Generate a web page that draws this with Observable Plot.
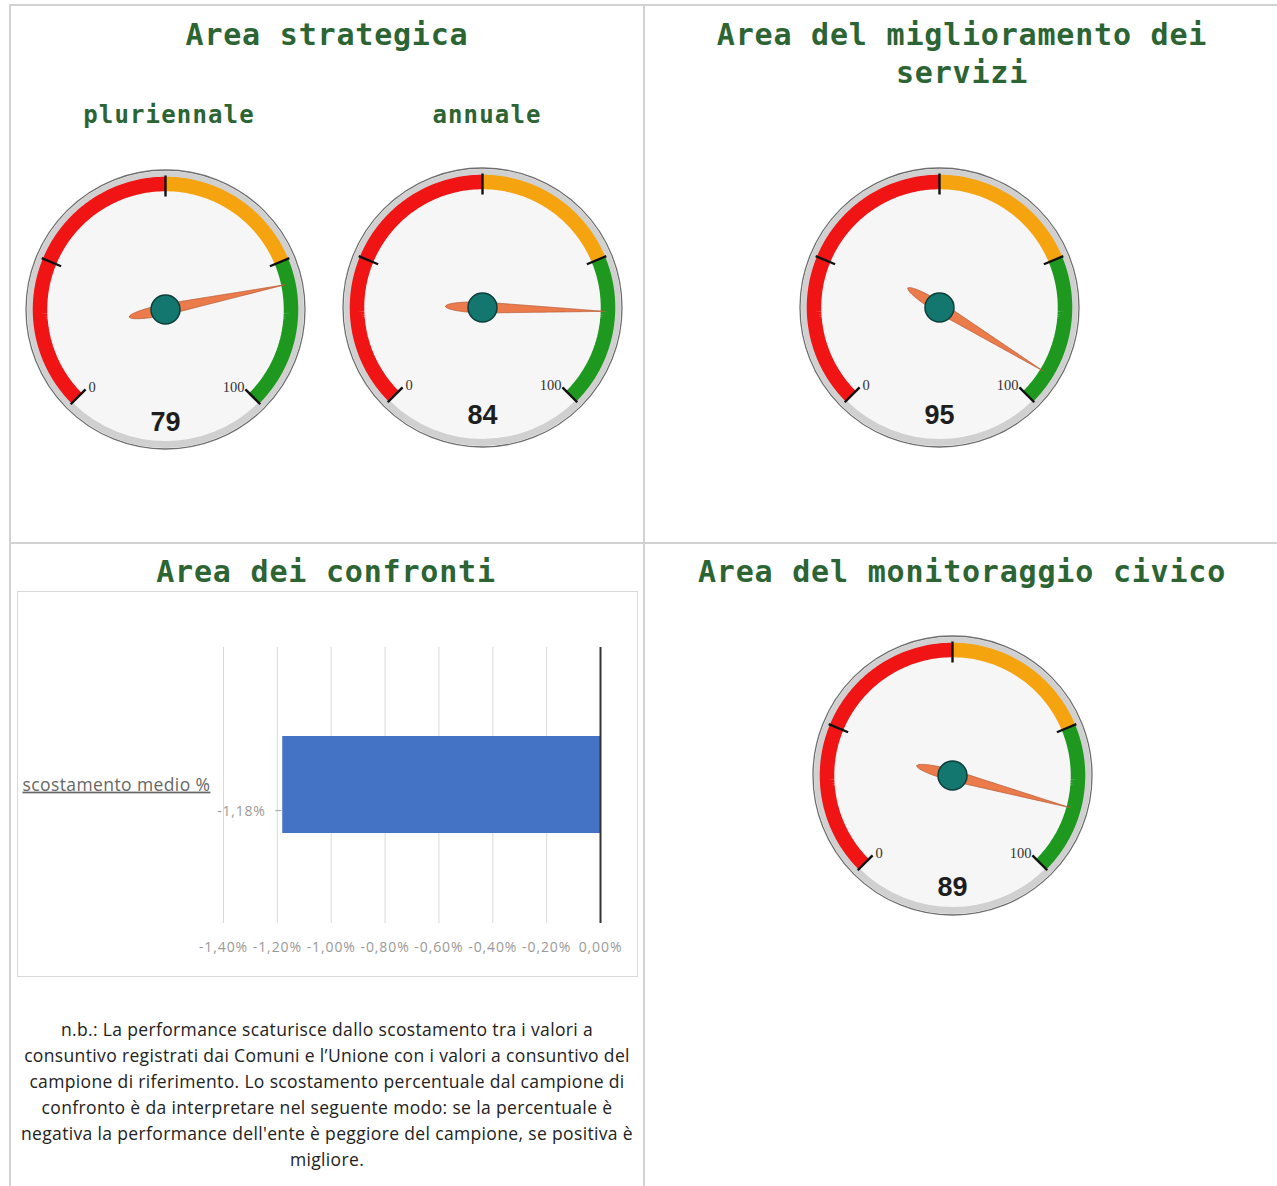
<!DOCTYPE html>
<html>
<head>
<meta charset="utf-8">
<script src="https://cdn.jsdelivr.net/npm/d3@7"></script>
<script src="https://cdn.jsdelivr.net/npm/@observablehq/plot@0.6"></script>
<style>
  html, body { margin: 0; padding: 0; background: #fff; }
  #page { position: relative; width: 1277px; height: 1186px; overflow: hidden; background: #fff; }
  .line { position: absolute; background: #d2d2d2; }
  .title { position: absolute; text-align: center; font-family: "DejaVu Sans Mono", monospace; font-weight: bold; color: #2c6433; white-space: nowrap; }
  .t1 { font-size: 30px; letter-spacing: 0.8px; line-height: 38px; }
  .t2 { font-size: 24px; letter-spacing: 1.15px; line-height: 30px; }
  .abs { position: absolute; }
  #barbox { position: absolute; left: 17px; top: 591px; width: 621px; height: 386px; border: 1px solid #d9d9d9; box-sizing: border-box; }
  #note { position: absolute; left: 10px; width: 634px; top: 1016px; text-align: center; font-family: "Open Sans", sans-serif; font-size: 17.5px; letter-spacing: 0.35px; line-height: 26px; color: #222; }
  #note div { white-space: nowrap; }
</style>
</head>
<body>
<div id="page"></div>
<script>
// ---------- data ----------
const areaTitles = ["Area strategica", "Area del miglioramento dei\nservizi", "Area dei confronti", "Area del monitoraggio civico"];
const gaugeNames = ["pluriennale", "annuale", "miglioramento servizi", "monitoraggio civico"];
const gaugeSubtitles = ["pluriennale", "annuale"];
const gaugeValues = [79, 84, 95, 89];
const bandStarts = [0, 50, 75];
const bandEnds = [50, 75, 100];
const bandColors = ["#f01414", "#f5a30f", "#1e981e"];
const gaugeTicks = [0, 25, 50, 75, 100];
const gaugeTickLabels = ["0", "100"];

const barCategories = ["-1,18%"];
const barValues = [-1.18];
const barAxisLabel = "scostamento medio %";
const xTicks = [-1.4, -1.2, -1.0, -0.8, -0.6, -0.4, -0.2, 0];
const xTickLabels = ["-1,40%", "-1,20%", "-1,00%", "-0,80%", "-0,60%", "-0,40%", "-0,20%", "0,00%"];

const noteLines = [
  "n.b.: La performance scaturisce dallo scostamento tra i valori a",
  "consuntivo registrati dai Comuni e l’Unione con i valori a consuntivo del",
  "campione di riferimento. Lo scostamento percentuale dal campione di",
  "confronto è da interpretare nel seguente modo: se la percentuale è",
  "negativa la performance dell'ente è peggiore del campione, se positiva è",
  "migliore."
];

// ---------- layout ----------
const page = document.getElementById("page");
function addLine(l, t, w, h) {
  const d = document.createElement("div");
  d.className = "line";
  Object.assign(d.style, {left: l + "px", top: t + "px", width: w + "px", height: h + "px"});
  page.appendChild(d);
}
addLine(9, 4, 1268, 2);
addLine(9, 4, 2, 1182);
addLine(643, 4, 2, 1182);
addLine(9, 542, 1268, 2);

function addTitle(text, cx, top, cls) {
  const d = document.createElement("div");
  d.className = "title " + cls;
  d.style.left = (cx - 320) + "px";
  d.style.width = "640px";
  d.style.top = top + "px";
  d.innerHTML = text.split("\n").join("<br>");
  page.appendChild(d);
}
addTitle(areaTitles[0], 327, 16, "t1");
addTitle(areaTitles[1], 962, 16, "t1");
addTitle(areaTitles[2], 326, 553, "t1");
addTitle(areaTitles[3], 962, 553, "t1");
addTitle(gaugeSubtitles[0], 169, 100, "t2");
addTitle(gaugeSubtitles[1], 487, 100, "t2");

// ---------- gauges ----------
const gaugeCenters = [[165, 309], [482, 307], [939, 307], [952, 775]];
const valueOffsets = [113, 108, 108, 112];
const toAngle = v => (-135 + v * 2.7) * Math.PI / 180;
const polar = (v, r) => ({x: r * Math.sin(toAngle(v)), y: -r * Math.cos(toAngle(v))});

function gauge(value, valueOffset) {
  const arcPts = [];
  bandStarts.forEach((s, i) => {
    for (let v = s; v <= bandEnds[i] + 1e-9; v += 0.5) {
      const p = polar(v, 125.5);
      arcPts.push({...p, band: i});
    }
  });
  const ticks = gaugeTicks.map(v => {
    const a = polar(v, 134), b = polar(v, 113);
    return {x1: a.x, y1: a.y, x2: b.x, y2: b.y};
  });
  const labelLo = [{...polar(gaugeTicks[0], 113), text: gaugeTickLabels[0]}];
  const labelHi = [{...polar(gaugeTicks[gaugeTicks.length - 1], 113), text: gaugeTickLabels[1]}];
  // needle polygon
  const th = toAngle(value);
  const ux = Math.sin(th), uy = -Math.cos(th), px = Math.cos(th), py = Math.sin(th);
  const L = 122, T = 37, W = 5.5;
  const side = [];
  for (let t = -T; t <= L; t += 1) {
    const w = t < 0 ? W * Math.sqrt(Math.max(0, 1 - (t / T) ** 2)) : W * (1 - t / L);
    side.push([t, w]);
  }
  const needle = [];
  side.forEach(([t, w]) => needle.push({x: t * ux + w * px, y: t * uy + w * py}));
  side.slice().reverse().forEach(([t, w]) => needle.push({x: t * ux - w * px, y: t * uy - w * py}));
  needle.push(needle[0]);

  const labelStyle = {fontSize: 14.5, fontFamily: "Liberation Serif, serif", fill: "#333"};
  return Plot.plot({
    width: 300, height: 300, margin: 0,
    x: {domain: [-150, 150], axis: null},
    y: {domain: [150, -150], axis: null},
    style: {background: "transparent", overflow: "visible"},
    marks: [
      Plot.dot([0], {x: () => 0, y: () => 0, r: 139.5, fill: "#f6f6f6", stroke: "#6e6e6e", strokeWidth: 1.3}),
      Plot.dot([0], {x: () => 0, y: () => 0, r: 135, fill: "none", stroke: "#d0d0d0", strokeWidth: 7}),
      Plot.line(arcPts, {x: "x", y: "y", z: "band", stroke: d => bandColors[d.band], strokeWidth: 14.5, strokeLinecap: "butt", strokeLinejoin: "round", curve: "linear"}),
      Plot.link(ticks, {x1: "x1", y1: "y1", x2: "x2", y2: "y2", stroke: "#111", strokeWidth: 2.4}),
      Plot.text(labelLo, {x: "x", y: "y", text: "text", textAnchor: "start", dx: 3, dy: -2, ...labelStyle}),
      Plot.text(labelHi, {x: "x", y: "y", text: "text", textAnchor: "end", dx: -1, dy: -2, ...labelStyle}),
      Plot.line(needle, {x: "x", y: "y", fill: "#ec7b4c", stroke: "#b85a35", strokeWidth: 0.8, curve: "linear"}),
      Plot.dot([0], {x: () => 0, y: () => 0, r: 14.5, fill: "#13776f", stroke: "#0c3f3b", strokeWidth: 1.5}),
      Plot.text([value], {x: () => 0, y: () => valueOffset, text: d => String(d), fontSize: 27, fontWeight: "bold", fontFamily: "Liberation Sans, Arial, sans-serif", fill: "#1e1e1e"})
    ]
  });
}

gaugeValues.forEach((v, i) => {
  const svg = gauge(v, valueOffsets[i]);
  svg.classList.add("abs");
  svg.style.left = (gaugeCenters[i][0] - 150) + "px";
  svg.style.top = (gaugeCenters[i][1] - 150) + "px";
  svg.setAttribute("aria-label", gaugeNames[i]);
  page.appendChild(svg);
});

// ---------- bar chart ----------
const barData = barCategories.map((c, i) => ({cat: c, value: barValues[i]}));
const barbox = document.createElement("div");
barbox.id = "barbox";
page.appendChild(barbox);
const bar = Plot.plot({
  width: 619, height: 384,
  marginLeft: 205, marginRight: 37, marginTop: 55, marginBottom: 53,
  x: {domain: [-1.4, 0]},
  y: {domain: barCategories, padding: 0.476, axis: null},
  style: {background: "transparent", overflow: "visible"},
  marks: [
    Plot.gridX(xTicks, {stroke: "#d9d9d9", strokeOpacity: 1, strokeWidth: 1}),
    Plot.barX(barData, {x: "value", y: "cat", fill: "#4472c4"}),
    Plot.ruleX([0], {stroke: "#333", strokeWidth: 2}),
    Plot.axisX(xTicks, {tickSize: 0, tickPadding: 19, tickFormat: d => xTickLabels[xTicks.indexOf(d)], fontSize: 14, fill: "#999", fontFamily: "Open Sans, sans-serif", label: null}),
    Plot.text(barData, {y: "cat", frameAnchor: "left", text: () => barAxisLabel, textAnchor: "start", dx: -201, fontSize: 17.5, fill: "#666", fontFamily: "Open Sans, sans-serif"}),
    Plot.text(barData, {x: "value", y: "cat", text: "cat", textAnchor: "end", dx: -17, dy: 27, fontSize: 14, fill: "#999", fontFamily: "Open Sans, sans-serif"}),
    Plot.text(barData, {x: "value", y: "cat", text: () => "–", textAnchor: "end", dx: -1, dy: 26, fontSize: 14, fill: "#aaa", fontFamily: "Open Sans, sans-serif"})
  ]
});
barbox.appendChild(bar);
// underline the category axis label, widen tick labels
bar.querySelectorAll("text").forEach(t => {
  if (t.textContent === barAxisLabel) { t.setAttribute("text-decoration", "underline"); t.setAttribute("letter-spacing", "0.4"); }
  if (t.textContent === barCategories[0]) t.setAttribute("letter-spacing", "0.8");
});
bar.querySelectorAll('[aria-label="x-axis tick label"] text').forEach(t => t.setAttribute("letter-spacing", "0.9"));

// ---------- note ----------
const note = document.createElement("div");
note.id = "note";
note.innerHTML = noteLines.map(l => "<div>" + l + "</div>").join("");
page.appendChild(note);
</script>
</body>
</html>
